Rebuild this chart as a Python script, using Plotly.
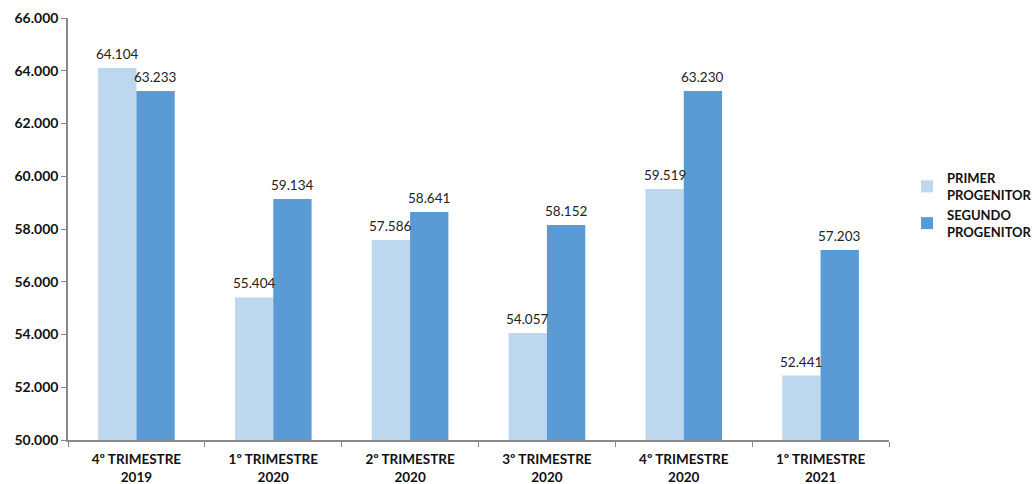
import plotly.graph_objects as go

categories = ["4º TRIMESTRE<br>2019", "1º TRIMESTRE<br>2020", "2º TRIMESTRE<br>2020",
              "3º TRIMESTRE<br>2020", "4º TRIMESTRE<br>2020", "1º TRIMESTRE<br>2021"]
primer = [64104, 55404, 57586, 54057, 59519, 52441]
segundo = [63233, 59134, 58641, 58152, 63230, 57203]
series_names = ["PRIMER<br>PROGENITOR", "SEGUNDO<br>PROGENITOR"]
y_ticks = [50000, 52000, 54000, 56000, 58000, 60000, 62000, 64000, 66000]

FONT = "Lato"
W, H = 1034, 484
ML, MR, MT, MB = 68, 145, 18, 44
BARGAP = 0.44

def fmt(v):
    return f"{v:,}".replace(",", ".")

fig = go.Figure()
fig.add_trace(go.Bar(x=categories, y=primer, name=series_names[0],
                     marker=dict(color="#BDD7EE", line=dict(width=0))))
fig.add_trace(go.Bar(x=categories, y=segundo, name=series_names[1],
                     marker=dict(color="#5B9BD5", line=dict(width=0))))

# data labels placed over each bar (offset by half a bar width within the group)
cat_px = (W - ML - MR) / len(categories)
half_bar = cat_px * (1 - BARGAP) / 4
annotations = []
for series, sign in ((primer, -1), (segundo, 1)):
    for c, v in zip(categories, series):
        annotations.append(dict(x=c, y=v, text=fmt(v), showarrow=False,
                                xanchor="center", yanchor="bottom",
                                xshift=sign * half_bar, yshift=4,
                                font=dict(family=FONT, size=13.5, color="#222")))

fig.update_layout(
    width=W, height=H,
    margin=dict(l=ML, r=MR, t=MT, b=MB, autoexpand=False),
    paper_bgcolor="white", plot_bgcolor="white",
    separators=",.",
    barmode="group", bargap=BARGAP, bargroupgap=0,
    font=dict(family=FONT, size=13, color="#111"),
    legend=dict(x=1.022, xanchor="left", y=0.557, yanchor="middle",
                font=dict(family=FONT, size=13, color="#111", weight="bold"),
                tracegroupgap=14, itemwidth=30),
    showlegend=True,
    annotations=annotations,
)
fig.update_yaxes(range=[50000, 66000], tickvals=y_ticks, tickformat=",.0f",
                 automargin=False,
                 showgrid=False, zeroline=False, showline=True, linecolor="#888",
                 linewidth=1.5, ticks="outside", ticklen=5, tickcolor="#888",
                 tickfont=dict(family=FONT, size=14, color="#111", weight="bold"))
fig.update_xaxes(showgrid=False, showline=True, linecolor="#888", linewidth=1.5,
                 automargin=False, ticklabelstandoff=6,
                 ticks="outside", tickson="boundaries", ticklen=5, tickcolor="#888",
                 tickfont=dict(family=FONT, size=13.5, color="#111", weight="bold"))

fig.write_html("out.html", config={"displayModeBar": False},
               post_script="document.body.style.margin='0';")
